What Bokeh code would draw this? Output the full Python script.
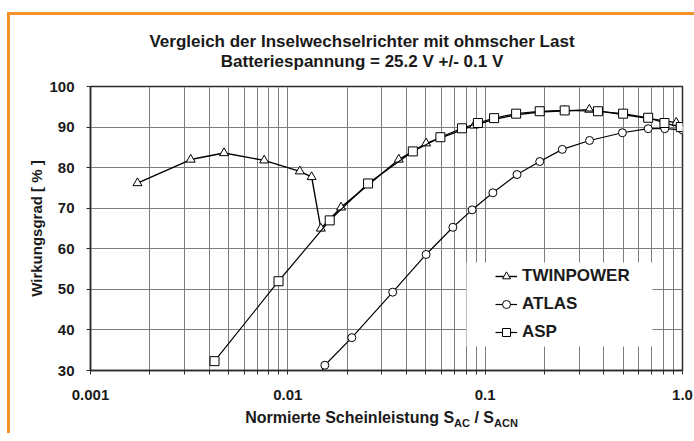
from bokeh.plotting import figure
from bokeh.models import FixedTicker, Legend, LegendItem, BoxAnnotation, Div, Range1d
from bokeh.layouts import column, row
from bokeh.embed import file_html
from bokeh.resources import INLINE

# ---------------- data ----------------
title_line1 = "Vergleich der Inselwechselrichter mit ohmscher Last"
title_line2 = "Batteriespannung = 25.2 V +/- 0.1 V"
y_label = "Wirkungsgrad [ % ]"
x_label_main = "Normierte Scheinleistung S"
x_label_sub1 = "AC"
x_label_mid = " / S"
x_label_sub2 = "ACN"

x_ticks = [0.001, 0.01, 0.1, 1.0]
x_tick_labels = ["0.001", "0.01", "0.1", "1.0"]
y_ticks = [30, 40, 50, 60, 70, 80, 90, 100]

series_names = ["TWINPOWER", "ATLAS", "ASP"]

twin_x = [0.00173, 0.00322, 0.00475, 0.00759, 0.0115, 0.0132, 0.0147, 0.0186,
          0.0365, 0.0502, 0.0879, 0.111, 0.1435, 0.189, 0.253, 0.337, 0.93]
twin_y = [76.2, 82.0, 83.6, 81.8, 79.1, 77.7, 65.0, 70.2,
          82.0, 86.0, 90.4, 91.9, 93.0, 93.7, 94.0, 94.3, 91.1]

atlas_x = [0.0136, 0.0154, 0.0211, 0.0340, 0.0502, 0.0686, 0.0859, 0.1094, 0.145,
           0.189, 0.246, 0.338, 0.496, 0.670, 0.813, 1.0]
atlas_y = [26.0, 31.3, 38.1, 49.3, 58.6, 65.3, 69.6, 73.8, 78.3,
           81.5, 84.5, 86.7, 88.6, 89.6, 89.6, 89.3]

asp_x = [0.00425, 0.00897, 0.0163, 0.0255, 0.0430, 0.0593, 0.0763, 0.0919, 0.111,
         0.1435, 0.189, 0.253, 0.373, 0.500, 0.670, 0.81, 0.98]
asp_y = [32.3, 52.0, 67.0, 76.1, 84.0, 87.5, 89.7, 91.0, 92.2,
         93.3, 93.9, 94.1, 93.9, 93.3, 92.3, 91.0, 90.0]

# ---------------- style ----------------
FONT = "Liberation Sans"
ORANGE = "#F4922A"
GRID = "#7d7d7d"
DARK = "#2b2b2b"

minor_x = [k * d for d in (0.001, 0.01, 0.1) for k in range(2, 10)]

p = figure(frame_width=592, frame_height=284, x_axis_type="log",
           x_range=Range1d(0.001, 1.0), y_range=Range1d(30, 100),
           output_backend="svg", toolbar_location=None,
           min_border_left=80, min_border_right=12,
           min_border_top=12, min_border_bottom=37,
           background_fill_color="white", border_fill_color="white")

p.xaxis.ticker = FixedTicker(ticks=x_ticks, minor_ticks=minor_x)
p.xaxis.major_label_overrides = dict(zip(x_ticks, x_tick_labels))
p.yaxis.ticker = FixedTicker(ticks=y_ticks)

p.xgrid.grid_line_color = GRID
p.xgrid.minor_grid_line_color = GRID
p.ygrid.grid_line_color = GRID

for ax in (p.xaxis[0], p.yaxis[0]):
    ax.major_label_text_font = FONT
    ax.major_label_text_font_style = "bold"
    ax.major_label_text_font_size = "15px"
    ax.major_label_text_color = "#1a1a1a"
    ax.axis_line_color = DARK
    ax.axis_line_width = 1.5
    ax.major_tick_line_color = DARK
    ax.major_tick_out = 4
    ax.major_tick_in = 0

p.xaxis.minor_tick_line_color = DARK
p.xaxis.minor_tick_out = 4
p.xaxis.minor_tick_in = 0
p.yaxis.minor_tick_line_color = None
p.xaxis.major_label_standoff = 15
p.yaxis.major_label_standoff = 12

p.yaxis.axis_label = y_label
p.yaxis.axis_label_text_font = FONT
p.yaxis.axis_label_text_font_style = "bold"
p.yaxis.axis_label_text_font_size = "15px"
p.yaxis.axis_label_text_color = "#1a1a1a"
p.yaxis.axis_label_standoff = 1

p.outline_line_color = DARK
p.outline_line_width = 1.5

# ---------------- series ----------------
items = []
specs = [(twin_x, twin_y, "triangle", 9, 1.4),
         (atlas_x, atlas_y, "circle", 8, 1.2),
         (asp_x, asp_y, "square", 9, 1.2)]
for name, (xs, ys, mk, sz, lw) in zip(series_names, specs):
    lr = p.line(xs, ys, line_color="black", line_width=lw)
    sr = p.scatter(xs, ys, marker=mk, size=sz, fill_color="white",
                   line_color="black", line_width=1)
    items.append(LegendItem(label=name, renderers=[lr, sr]))

box = BoxAnnotation(left=376, right=562, bottom=24, top=108,
                    left_units="screen", right_units="screen",
                    bottom_units="screen", top_units="screen",
                    fill_color="white", fill_alpha=1.0, line_color=None)
p.add_layout(box)

legend = Legend(items=items, location=(405, 28), padding=0, margin=0,
                spacing=8, glyph_width=22, glyph_height=20, label_height=20,
                label_standoff=5, label_text_font=FONT,
                label_text_font_style="bold", label_text_font_size="17px",
                label_text_color="#1a1a1a",
                background_fill_alpha=0, border_line_color=None)
p.add_layout(legend, "center")

title_div = Div(
    text=(f'<div style="width:658px;margin-left:23px;font-family:\'{FONT}\';'
          f'font-weight:bold;font-size:17px;line-height:20px;text-align:center;'
          f'padding-top:17px;color:#1a1a1a;white-space:nowrap;">'
          f'{title_line1}<br>{title_line2}</div>'),
    width=684, height=59, margin=0)

xlabel_div = Div(
    text=(f'<div style="width:663px;margin-left:40px;font-family:\'{FONT}\';'
          f'font-weight:bold;font-size:16px;line-height:20px;text-align:center;'
          f'padding-top:1px;color:#1a1a1a;white-space:nowrap;">{x_label_main}'
          f'<sub style="font-size:11px">{x_label_sub1}</sub>{x_label_mid}'
          f'<sub style="font-size:11px">{x_label_sub2}</sub></div>'),
    width=684, height=26, margin=0)

left_gap = Div(text="", width=7, height=420, margin=0)
top_gap = Div(text="", width=687, height=12, margin=0)
top_bar = Div(text="", width=687, height=3, margin=0,
              styles={"background-color": ORANGE})
left_bar = Div(text="", width=3, height=418, margin=0,
               styles={"background-color": ORANGE})

inner = column(title_div, p, xlabel_div, spacing=0)
layout = row(left_gap,
             column(top_gap, top_bar, row(left_bar, inner, spacing=0), spacing=0),
             spacing=0)

open("out.html", "w").write(file_html(layout, INLINE))
